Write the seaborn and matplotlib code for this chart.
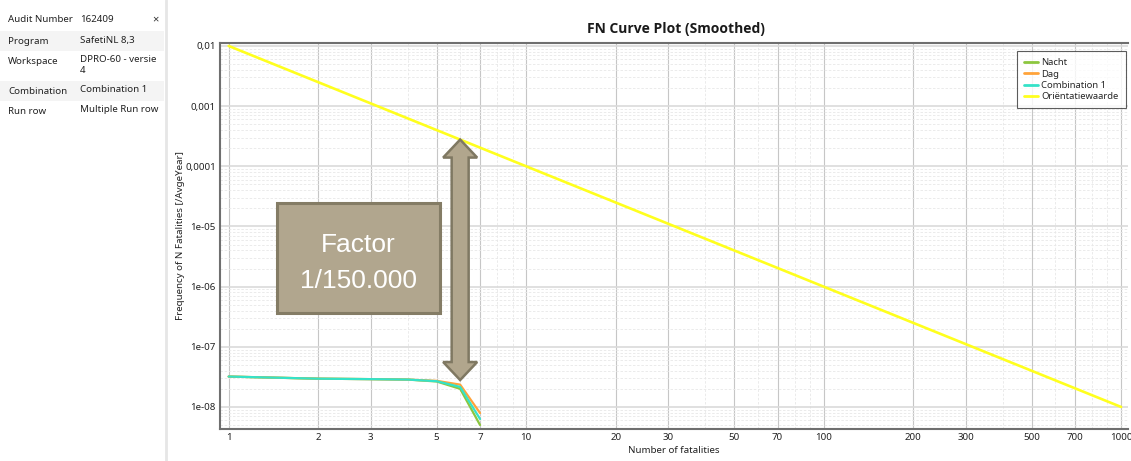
import matplotlib
matplotlib.use("Agg")
import numpy as np
import pandas as pd
import matplotlib.pyplot as plt
import seaborn as sns
from matplotlib.patches import Rectangle, Polygon
from matplotlib.lines import Line2D
from matplotlib.transforms import IdentityTransform
from matplotlib.ticker import FixedLocator, FixedFormatter, LogLocator, NullFormatter

# --- FN data (frequency of N or more fatalities per average year) ---
fatalities = [1, 2, 3, 4, 5, 6, 7]
nacht = [3.2e-8, 2.95e-8, 2.9e-8, 2.85e-8, 2.65e-8, 2.0e-8, 5.0e-9]
dag = [3.2e-8, 2.95e-8, 2.9e-8, 2.85e-8, 2.72e-8, 2.35e-8, 7.9e-9]
combination_1 = [3.2e-8, 2.95e-8, 2.9e-8, 2.85e-8, 2.68e-8, 2.15e-8, 6.3e-9]

# Guide value (orientatiewaarde)
ref_fatalities = [1, 10, 100, 1000]
orientatiewaarde = [1e-2, 1e-4, 1e-6, 1e-8]

series_names = ["Nacht", "Dag", "Combination 1", "Oriëntatiewaarde"]
series_colors = ["#8cc63f", "#ffa33a", "#35e2c8", "#ffff1e"]

x_ticks = [1, 2, 3, 5, 7, 10, 20, 30, 50, 70, 100, 200, 300, 500, 700, 1000]
x_tick_labels = [str(v) for v in x_ticks]
y_ticks = [1e-8, 1e-7, 1e-6, 1e-5, 1e-4, 1e-3, 1e-2]
y_tick_labels = ["1e-08", "1e-07", "1e-06", "1e-05", "0,0001", "0,001", "0,01"]

# Double arrow marking the gap between the guide value and the curves at N = 6
arrow_n = 6
arrow_top, arrow_bottom = 2.78e-4, 2.8e-8
factor_text = ["Factor", "1/150.000"]

# Audit properties panel
properties = [
    ("Audit Number", "162409"),
    ("Program", "SafetiNL 8,3"),
    ("Workspace", "DPRO-60 - versie\n4"),
    ("Combination", "Combination 1"),
    ("Run row", "Multiple Run row"),
]

sns.set_theme(style="white")
plt.rcParams["font.family"] = ["Noto Sans", "DejaVu Sans"]

W, H = 1131, 461
fig = plt.figure(figsize=(W / 100, H / 100), dpi=100)
fig.patch.set_facecolor("white")


def fx(px):
    return px / W


def fy(py):
    return 1 - py / H


ax = fig.add_axes([fx(220), fy(429), fx(1128) - fx(220), fy(43) - fy(429)])

frames = []
for name, xs, ys in [
    ("Nacht", fatalities, nacht),
    ("Dag", fatalities, dag),
    ("Combination 1", fatalities, combination_1),
    ("Oriëntatiewaarde", ref_fatalities, orientatiewaarde),
]:
    frames.append(pd.DataFrame({"N": xs, "F": ys, "Serie": name}))
df = pd.concat(frames, ignore_index=True)

palette = dict(zip(series_names, series_colors))
sns.lineplot(data=df, x="N", y="F", hue="Serie", hue_order=series_names,
             palette=palette, estimator=None, sort=False, linewidth=1.6,
             legend=False, ax=ax)
for line in ax.lines:
    if len(line.get_xdata()) == len(ref_fatalities):
        line.set_linewidth(1.9)

ax.set_xscale("log")
ax.set_yscale("log")
ax.set_xlim(0.935, 1055)
ax.set_ylim(4.3e-9, 1.12e-2)

ax.xaxis.set_major_locator(FixedLocator(x_ticks))
ax.xaxis.set_major_formatter(FixedFormatter(x_tick_labels))
ax.xaxis.set_minor_locator(LogLocator(base=10, subs=np.arange(2, 10)))
ax.xaxis.set_minor_formatter(NullFormatter())
ax.yaxis.set_major_locator(FixedLocator(y_ticks))
ax.yaxis.set_major_formatter(FixedFormatter(y_tick_labels))
ax.yaxis.set_minor_locator(LogLocator(base=10, subs=np.arange(2, 10)))
ax.yaxis.set_minor_formatter(NullFormatter())

ax.grid(which="major", axis="x", color="#c6c6c6", lw=0.8, ls="-")
ax.grid(which="major", axis="y", color="#dadada", lw=1.2, ls="-")
ax.grid(which="minor", axis="both", color="#e8e8e8", lw=0.6, ls=(0, (3, 2)))
ax.set_axisbelow(True)

ax.tick_params(which="both", length=0, labelsize=7, pad=3, colors="#222222")
for side in ["left", "bottom", "top"]:
    ax.spines[side].set_color("#6f6f6f")
    ax.spines[side].set_linewidth(1.5)
ax.spines["right"].set_visible(False)

ax.set_xlabel("Number of fatalities", fontsize=7, labelpad=3, color="#222222")
ax.set_ylabel("Frequency of N Fatalities [/AvgeYear]", fontsize=7, labelpad=0,
              color="#222222")
fig.text(fx(676), fy(29), "FN Curve Plot (Smoothed)", ha="center", va="center",
         fontsize=10, fontweight="bold", family=["Open Sans", "DejaVu Sans"],
         color="#1a1a1a")

handles = [Line2D([0], [0], color=c, lw=2) for c in series_colors]
leg = ax.legend(handles, series_names, loc="upper right",
                bbox_to_anchor=(0.9975, 0.979), borderaxespad=0,
                fontsize=6.8, frameon=True, fancybox=False, handlelength=1.4,
                handletextpad=0.4, borderpad=0.75, labelspacing=0.25)
leg.get_frame().set_edgecolor("#333333")
leg.get_frame().set_linewidth(0.8)

# Double-headed arrow, shaped in pixel space between its two data endpoints
fig.canvas.draw()
xt, yt = ax.transData.transform((arrow_n, arrow_top))
xb, yb = ax.transData.transform((arrow_n, arrow_bottom))
head_w, head_l, shaft_w = 17, 18, 8.5
pts = [
    (xt, yt), (xt + head_w, yt - head_l), (xt + shaft_w, yt - head_l),
    (xb + shaft_w, yb + head_l), (xb + head_w, yb + head_l), (xb, yb),
    (xb - head_w, yb + head_l), (xb - shaft_w, yb + head_l),
    (xt - shaft_w, yt - head_l), (xt - head_w, yt - head_l),
]
fig.add_artist(Polygon(pts, closed=True, transform=IdentityTransform(),
                       facecolor="#b1a68d", edgecolor="#7f7862", lw=1.8,
                       joinstyle="miter", zorder=5))

# Callout box
fig.add_artist(Rectangle((fx(277), fy(313)), fx(440) - fx(277), fy(203) - fy(313),
                         transform=fig.transFigure, facecolor="#b1a68e",
                         edgecolor="#847c65", lw=2.2, zorder=5))
fig.text(fx(358), fy(245), factor_text[0], ha="center", va="center",
         fontsize=19, color="white", family="Liberation Sans", zorder=6)
fig.text(fx(358), fy(281), factor_text[1], ha="center", va="center",
         fontsize=19, color="white", family="Liberation Sans", zorder=6)

# Properties panel on the left
row_tops = [10, 31, 51, 81, 101]
row_bottoms = [31, 51, 81, 101, 120]
for i, (label, value) in enumerate(properties):
    if i % 2 == 1:
        fig.add_artist(Rectangle((0, fy(row_bottoms[i])), fx(164),
                                 fy(row_tops[i]) - fy(row_bottoms[i]),
                                 transform=fig.transFigure, facecolor="#f4f4f4",
                                 edgecolor="none", zorder=0))
    yc = row_tops[i] + 10
    fig.text(fx(8), fy(yc), label, ha="left", va="center", fontsize=7,
             color="#222222")
    fig.text(fx(80), fy(yc - 5.5), value, ha="left", va="top", fontsize=7,
             color="#222222", linespacing=1.15)
fig.text(fx(155), fy(20), "×", ha="center", va="center", fontsize=8,
         fontweight="bold", color="#333333")
fig.add_artist(Line2D([fx(166), fx(166)], [0, 1], transform=fig.transFigure,
                      color="#e6e6e6", lw=2))

fig.savefig("out.png", dpi=100)
